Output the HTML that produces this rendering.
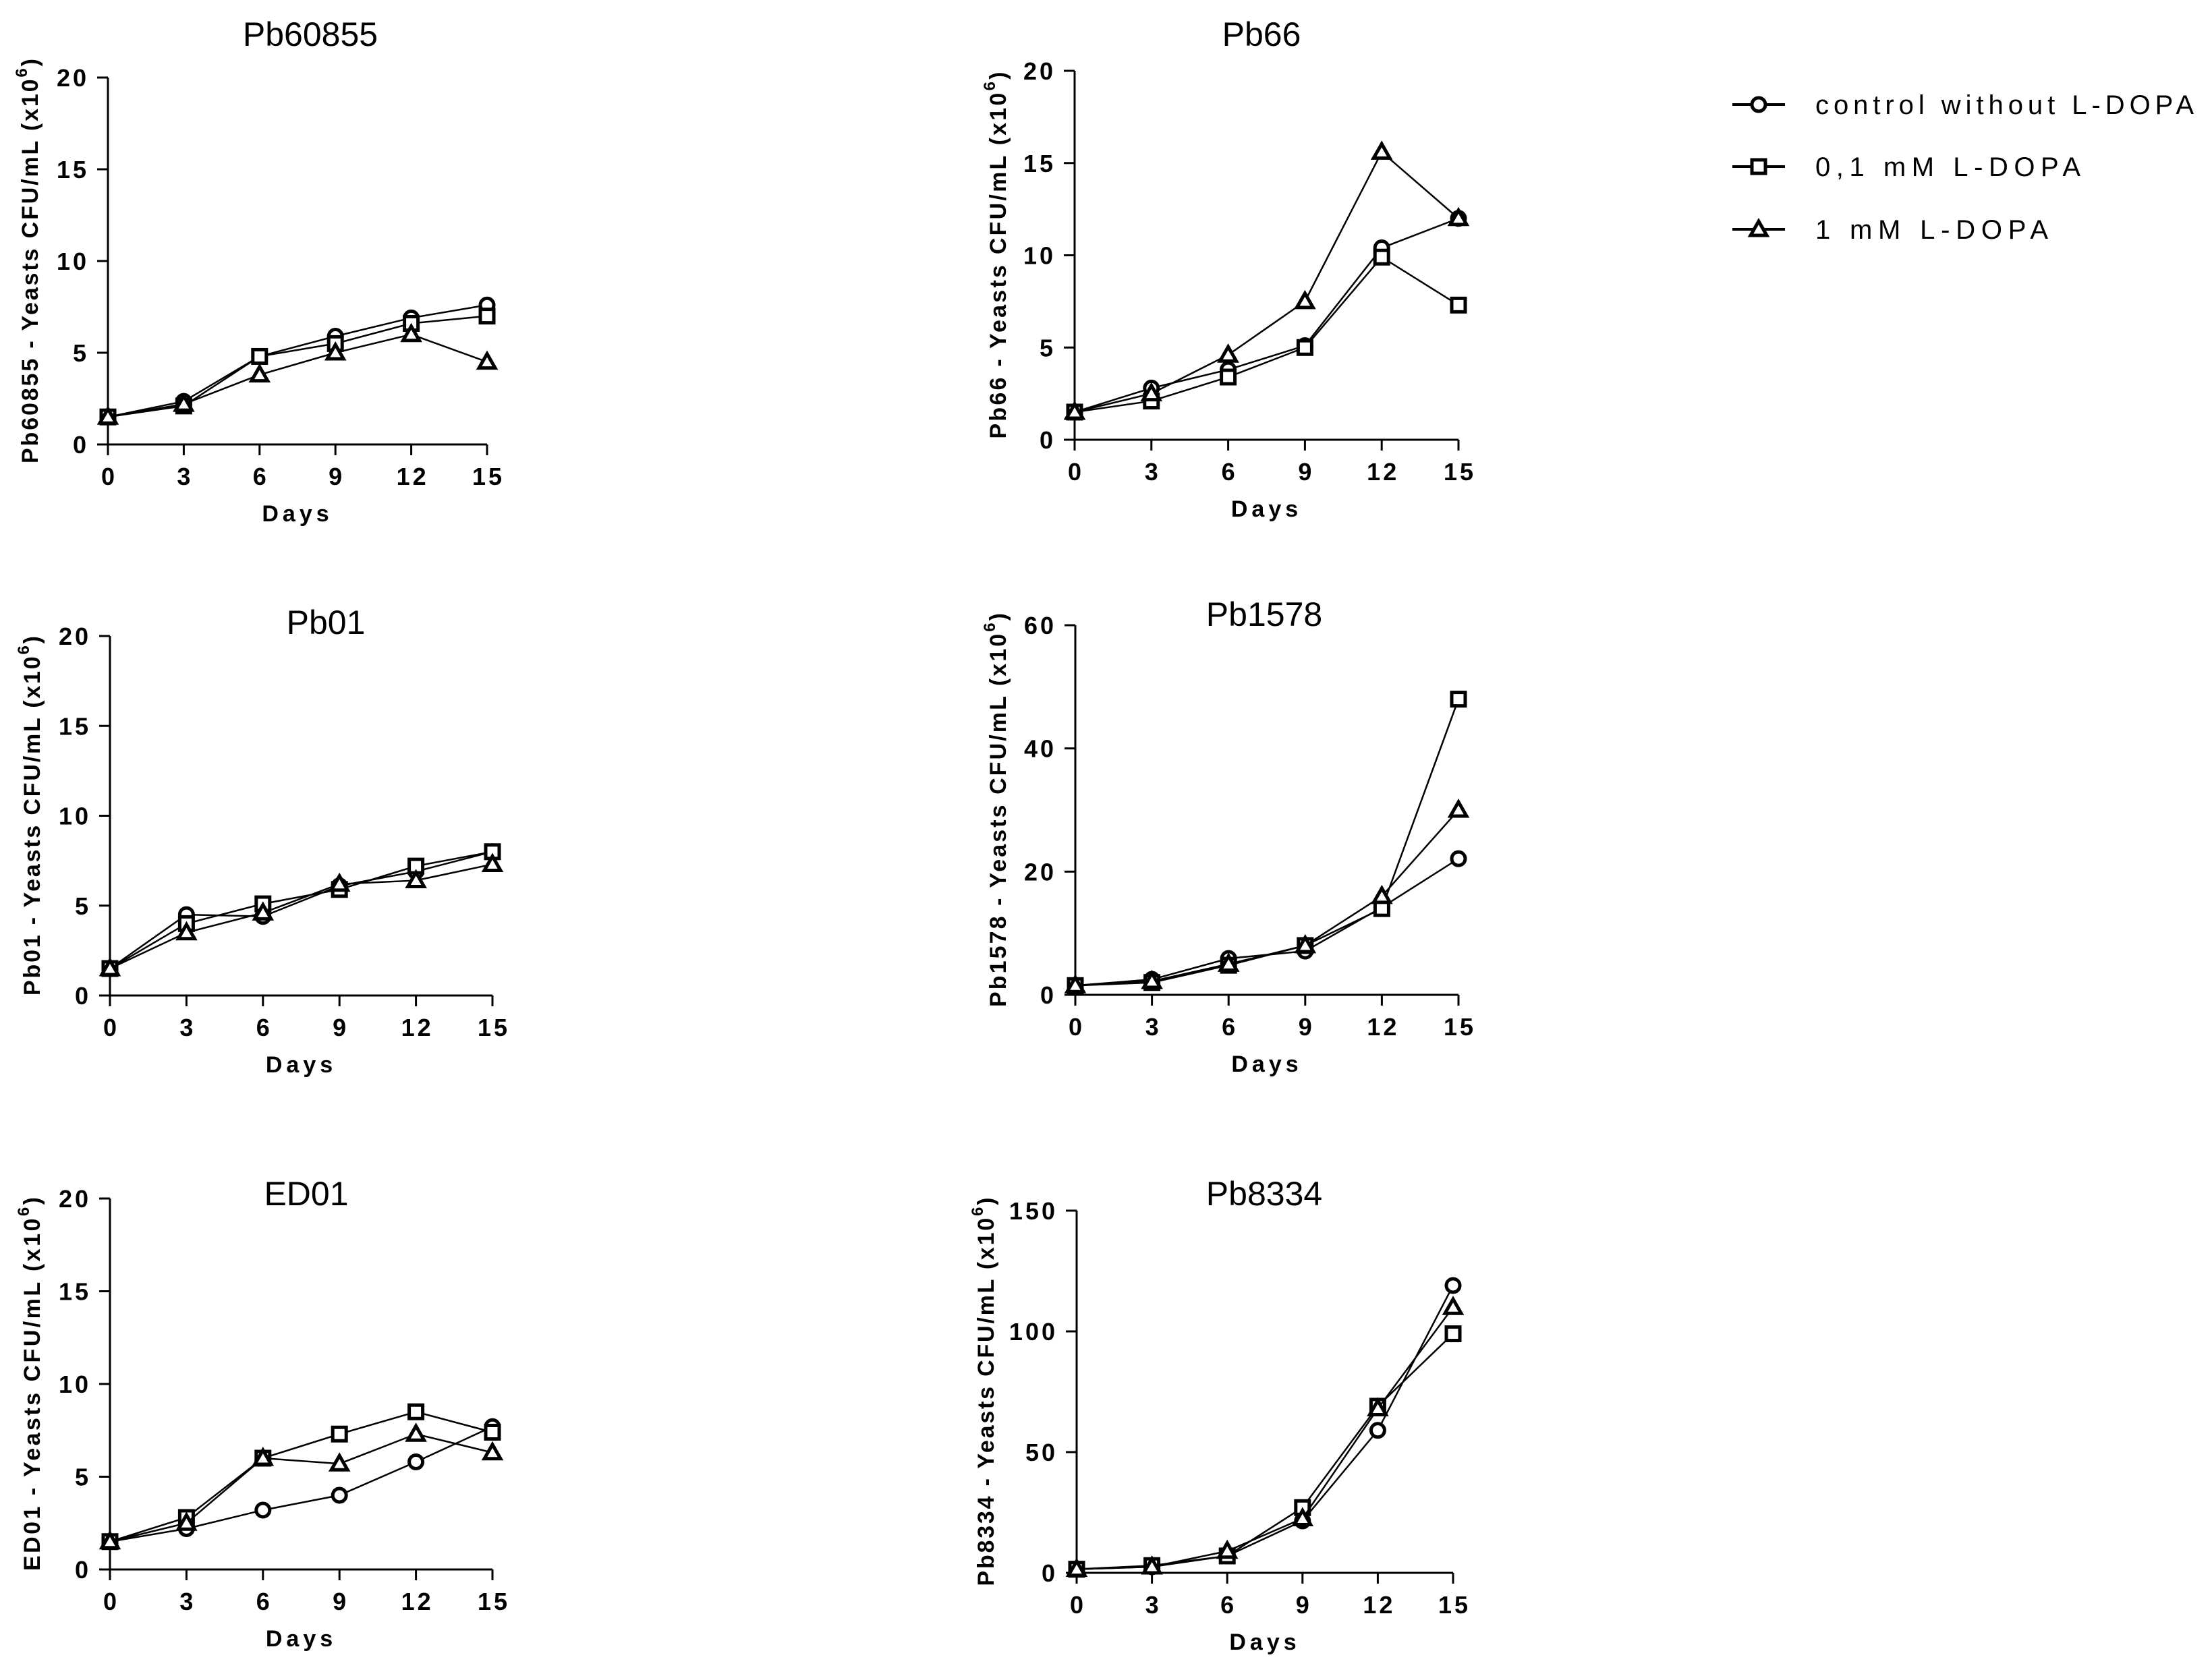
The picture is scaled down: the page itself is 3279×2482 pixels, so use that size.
<!DOCTYPE html>
<html><head><meta charset="utf-8"><style>
html,body{margin:0;padding:0;background:#fff;}
svg{display:block;font-family:"Liberation Sans",Arial,sans-serif;}
</style></head><body>
<svg id="fig" width="3279" height="2482" viewBox="0 0 3279 2482" xmlns="http://www.w3.org/2000/svg">
<rect width="3279" height="2482" fill="#fff"/>
<g id="legend"></g>
</svg>
<script>
const days = [0, 3, 6, 9, 12, 15];
const xTicks = [0, 3, 6, 9, 12, 15];
const seriesNames = ["control without L-DOPA", "0,1 mM L-DOPA", "1 mM L-DOPA"];
const seriesMarkers = ["circle", "square", "triangle"];

const pb60855Control = [1.5, 2.35, 4.8, 5.9, 6.9, 7.6];
const pb60855Low = [1.5, 2.1, 4.8, 5.5, 6.6, 7.0];
const pb60855High = [1.5, 2.2, 3.8, 5.0, 6.0, 4.5];

const pb66Control = [1.5, 2.8, 3.8, 5.1, 10.4, 12.0];
const pb66Low = [1.5, 2.1, 3.4, 5.0, 9.9, 7.3];
const pb66High = [1.5, 2.5, 4.6, 7.5, 15.6, 12.0];

const pb01Control = [1.5, 4.5, 4.4, 6.1, 6.9, 8.0];
const pb01Low = [1.5, 4.0, 5.1, 5.9, 7.2, 8.0];
const pb01High = [1.5, 3.5, 4.6, 6.2, 6.4, 7.3];

const pb1578Control = [1.5, 2.5, 5.9, 7.1, 14.2, 22.1];
const pb1578Low = [1.5, 2.0, 4.8, 8.0, 14.0, 48.0];
const pb1578High = [1.5, 2.2, 5.0, 8.0, 16.0, 30.0];

const ed01Control = [1.5, 2.2, 3.2, 4.0, 5.8, 7.7];
const ed01Low = [1.5, 2.8, 6.0, 7.3, 8.5, 7.4];
const ed01High = [1.5, 2.5, 6.0, 5.7, 7.3, 6.3];

const pb8334Control = [1.5, 2.5, 7, 21.5, 59, 119];
const pb8334Low = [1.5, 3, 7, 27, 69, 99];
const pb8334High = [1.5, 2.5, 9, 22.5, 68, 110];

const ticks20 = [0, 5, 10, 15, 20];
const ticks60 = [0, 20, 40, 60];
const ticks150 = [0, 50, 100, 150];

const panels = [
 {id:"pb60855", title:"Pb60855", ticks:ticks20, max:20, series:[pb60855Control,pb60855Low,pb60855High], x0:160,x1:722,y0:659,y1:115, tx:460, ty:68, labLen:600, labOff:104},
 {id:"pb66", title:"Pb66", ticks:ticks20, max:20, series:[pb66Control,pb66Low,pb66High], x0:1593,x1:2162,y0:652,y1:105, tx:1870, ty:68, labLen:544, labOff:102},
 {id:"pb01", title:"Pb01", ticks:ticks20, max:20, series:[pb01Control,pb01Low,pb01High], x0:163,x1:730,y0:1476,y1:943, tx:483, ty:940, labLen:533, labOff:104},
 {id:"pb1578", title:"Pb1578", ticks:ticks60, max:60, series:[pb1578Control,pb1578Low,pb1578High], x0:1594,x1:2162,y0:1475,y1:927, tx:1874, ty:928, labLen:584, labOff:103},
 {id:"ed01", title:"ED01", ticks:ticks20, max:20, series:[ed01Control,ed01Low,ed01High], x0:163,x1:730,y0:2327,y1:1777, tx:454, ty:1787, labLen:554, labOff:104},
 {id:"pb8334", title:"Pb8334", ticks:ticks150, max:150, series:[pb8334Control,pb8334Low,pb8334High], x0:1596,x1:2154,y0:2332,y1:1795, tx:1874, ty:1787, labLen:576, labOff:123}
];

const NS = "http://www.w3.org/2000/svg";
const svg = document.getElementById("fig");
function mk(tag, attrs, parent){
  const e = document.createElementNS(NS, tag);
  for (const k in attrs) e.setAttribute(k, attrs[k]);
  parent.appendChild(e);
  return e;
}
function drawMarker(type, cx, cy, parent){
  let m;
  if (type === "circle") {
    m = mk("circle", {cx:cx, cy:cy, r:10, fill:"#fff", stroke:"#000", "stroke-width":5}, parent);
  } else if (type === "square") {
    m = mk("rect", {x:cx-10, y:cy-10, width:20, height:20, fill:"#fff", stroke:"#000", "stroke-width":5}, parent);
  } else {
    m = mk("polygon", {points:(cx)+","+(cy-12)+" "+(cx-12)+","+(cy+9)+" "+(cx+12)+","+(cy+9), fill:"#fff", stroke:"#000", "stroke-width":5, "stroke-linejoin":"miter"}, parent);
  }
  return m;
}

panels.forEach(p => {
  const g = mk("g", {}, svg);
  
  
  const xs = d => p.x0 + (d - 0) / 15 * (p.x1 - p.x0);
  const ys = v => p.y0 - v / p.max * (p.y0 - p.y1);

  const t = mk("text", {x:p.tx, y:p.ty, "text-anchor":"middle", "font-size":50}, g);
  t.textContent = p.title;
  
  

  const ax = mk("g", {stroke:"#000", "stroke-width":3, fill:"none"}, g);
  
  
  mk("line", {x1:p.x0, y1:p.y1, x2:p.x0, y2:p.y0+16}, ax);
  mk("line", {x1:p.x0-16, y1:p.y0, x2:p.x1, y2:p.y0}, ax);
  p.ticks.forEach(v => {
    mk("line", {x1:p.x0-16, y1:ys(v), x2:p.x0, y2:ys(v)}, ax);
    const tl = mk("text", {x:p.x0-28, y:ys(v)+13, "text-anchor":"end", "font-size":36, "font-weight":"bold", "letter-spacing":4}, g);
    tl.textContent = v;
    
    
  });
  xTicks.forEach(d => {
    mk("line", {x1:xs(d), y1:p.y0, x2:xs(d), y2:p.y0+16}, ax);
    const tl = mk("text", {x:xs(d)+2, y:p.y0+60, "text-anchor":"middle", "font-size":36, "font-weight":"bold", "letter-spacing":4}, g);
    tl.textContent = d;
    
    
  });
  const xt = mk("text", {x:(p.x0+p.x1)/2, y:p.y0+114, "text-anchor":"middle", "font-size":34, "font-weight":"bold", "letter-spacing":6}, g);
  xt.textContent = "Days";
  
  

  const cx = p.x0 - p.labOff, cy = (p.y0 + p.y1) / 2;
  const yt = mk("text", {x:cx, y:cy, "text-anchor":"middle", "font-size":34, "font-weight":"bold", transform:"rotate(-90 "+cx+" "+cy+")", textLength:p.labLen, lengthAdjust:"spacing"}, g);
  
  
  const s1 = mk("tspan", {}, yt); s1.textContent = p.title + " - Yeasts CFU/mL (x10";
  const s2 = mk("tspan", {dy:-16, "font-size":24}, yt); s2.textContent = "6";
  const s3 = mk("tspan", {dy:16}, yt); s3.textContent = ")";

  p.series.forEach((vals, si) => {
    const sg = mk("g", {}, g);
    
    
    const pts = vals.map((v, i) => xs(days[i]) + "," + ys(v)).join(" ");
    const pl = mk("polyline", {points:pts, fill:"none", stroke:"#000", "stroke-width":2.5}, sg);
    
    
    vals.forEach((v, i) => {
      const m = drawMarker(seriesMarkers[si], xs(days[i]), ys(v), sg);
      
      
    });
  });
});

const legend = document.getElementById("legend");
const legendY = [155, 247, 340];
const legendLens = [561, 393, 345];
seriesNames.forEach((name, i) => {
  const lg = mk("g", {}, legend);
  
  
  mk("line", {x1:2568, y1:legendY[i], x2:2646, y2:legendY[i], stroke:"#000", "stroke-width":4}, lg);
  drawMarker(seriesMarkers[i], 2607, legendY[i], lg);
  const tx = mk("text", {x:2691, y:legendY[i]+14, "font-size":40, textLength:legendLens[i], lengthAdjust:"spacing"}, lg);
  tx.textContent = name;
  
  
});
</script>
</body></html>
